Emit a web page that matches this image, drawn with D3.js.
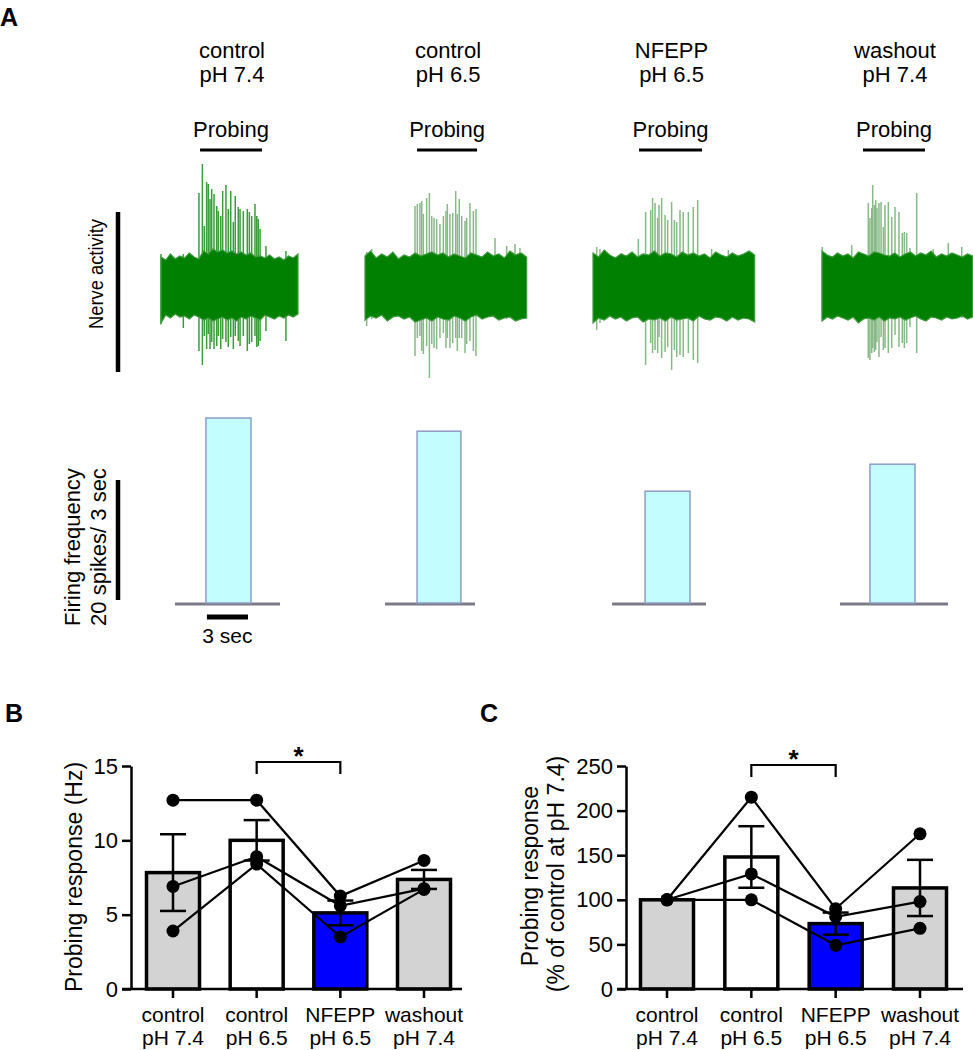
<!DOCTYPE html>
<html><head><meta charset="utf-8">
<script src="https://cdn.jsdelivr.net/npm/d3@7"></script>
<style>
body{margin:0;background:#fff}
svg{display:block}
text{font-family:"Liberation Sans",Arial,Helvetica,sans-serif;fill:#000}
</style>
</head><body>
<svg id="chart" width="973" height="1050"></svg>
<script>
// ---------------- DATA ----------------
const catLine1 = ["control", "control", "NFEPP", "washout"];
const catLine2 = ["pH 7.4", "pH 6.5", "pH 6.5", "pH 7.4"];
const cats = catLine1.map((d, i) => d + " " + catLine2[i]);
const barFills = ["#d3d3d3", "#ffffff", "#0000ff", "#d3d3d3"];

// Panel B: probing response (Hz), one row per preparation
const responseHz = [
  [12.7, 12.7, 6.25, 8.65],
  [6.9, 8.9, 5.6, 6.75],
  [3.9, 8.4, 3.5, 6.7]
];
const meanHz = [7.83, 10.0, 5.12, 7.37];
const semHz = [2.58, 1.36, 0.83, 0.64];
const ticksB = [0, 5, 10, 15];

// Panel C: % of control at pH 7.4
const responsePct = [
  [100, 100, 49, 68],
  [100, 129, 81, 98],
  [100, 215, 90, 174]
];
const meanPct = [100, 148, 73.3, 113.3];
const semPct = [0, 34.5, 12.4, 31.5];
const ticksC = [0, 50, 100, 150, 200, 250];

// Panel A: trace durations (s), probing windows (s)
const traceDur = [10.0, 11.8, 11.8, 11.0];
const probing = [[2.85, 7.37], [3.8, 8.18], [3.36, 7.96], [2.99, 7.52]];

// noise envelope (evenly sampled across each trace), amplitude units
const envTop = [
  [30,27,33,28,31,29,34,30,28,36,33,38,35,37,34,36,33,35,32,34,30,31,29,32,28,30,27,31,29,33],
  [31,36,29,33,30,35,28,32,30,34,31,33,35,32,34,30,33,31,29,34,32,30,35,31,33,29,36,32,34,30],
  [34,30,37,32,29,33,31,35,30,33,32,36,31,34,33,30,35,32,34,31,33,29,35,32,30,34,31,33,36,32],
  [36,32,30,34,31,33,29,35,33,31,35,34,32,31,34,30,33,35,31,34,32,36,30,33,31,34,32,30,33,31]
];
const envBot = [
  [-36,-28,-31,-27,-30,-29,-32,-28,-30,-33,-31,-34,-32,-30,-33,-31,-34,-30,-32,-29,-31,-33,-28,-30,-32,-29,-31,-28,-30,-27],
  [-33,-29,-31,-28,-34,-30,-29,-32,-30,-35,-33,-31,-34,-30,-32,-33,-29,-31,-34,-30,-28,-32,-30,-29,-33,-31,-30,-34,-32,-31],
  [-36,-31,-33,-29,-32,-30,-34,-31,-30,-35,-32,-33,-31,-34,-30,-33,-32,-31,-34,-29,-32,-33,-30,-31,-34,-30,-33,-31,-32,-35],
  [-34,-30,-32,-29,-31,-33,-30,-36,-32,-31,-33,-30,-34,-31,-32,-30,-33,-31,-29,-32,-34,-30,-31,-33,-30,-32,-31,-29,-32,-30]
];

// spikes: [time (s), upward amplitude, downward amplitude]
const spikes1 = [
  [0.0,33,-37],[1.63,33,-41],[2.77,94,-64],[3.02,123,-78],[3.16,61,-49],[3.33,105,-62],[3.45,103,-47],
  [3.58,88,-62],[3.70,98,-55],[3.87,93,-62],[4.07,81,-59],[4.18,76,-49],[4.36,71,-62],[4.50,96,-52],
  [4.74,102,-55],[4.91,78,-60],[5.09,96,-50],[5.28,65,-62],[5.42,91,-49],[5.64,80,-54],[5.77,78,-59],
  [6.01,76,-49],[6.30,78,-64],[6.45,75,-57],[6.62,71,-55],[6.86,83,-49],[6.99,71,-60],[7.10,68,-59],
  [7.23,58,-54],[7.66,41,-44],[9.12,36,-54]
];
const spikes2 = [
  [0.12,35,-39],[0.49,38,-32],[3.65,81,-69],[3.82,83,-51],[4.01,84,-49],[4.14,86,-64],[4.26,73,-67],
  [4.50,89,-59],[4.70,94,-91],[4.87,71,-57],[5.04,69,-61],[5.23,68,-62],[5.47,63,-51],[5.72,71,-46],
  [5.91,76,-61],[6.01,83,-51],[6.20,73,-61],[6.40,74,-56],[6.62,96,-51],[6.74,73,-64],[6.88,88,-51],
  [7.06,71,-51],[7.30,66,-66],[7.42,69,-57],[7.66,84,-54],[7.91,76,-64],[8.10,78,-69],
  [9.49,49,-31],[10.34,41,-32],[10.95,43,-34],[11.31,39,-32]
];
const spikes3 = [
  [0.27,40,-43],[0.51,38,-36],[0.88,37,-31],[2.09,34,-30],[3.31,48,-30],[3.84,75,-78],[4.21,77,-56],
  [4.35,89,-66],[4.53,84,-63],[4.72,69,-66],[4.82,82,-50],[5.01,89,-71],[5.26,72,-65],[5.45,67,-60],
  [5.74,85,-83],[5.94,67,-63],[6.11,65,-70],[6.35,77,-68],[6.59,75,-70],[6.96,75,-66],[7.32,80,-73],
  [7.64,87,-76],[8.66,38,-30],[9.88,37,-33],[11.58,35,-30]
];
const spikes4 = [
  [0.02,40,-33],[2.17,42,-30],[2.65,30,-36],[3.38,84,-71],[3.50,69,-73],[3.63,79,-66],[3.70,102,-61],
  [3.82,82,-65],[3.92,87,-63],[4.01,79,-55],[4.16,84,-70],[4.31,85,-50],[4.48,60,-63],[4.60,82,-61],
  [4.84,85,-66],[5.09,70,-61],[5.33,80,-48],[5.62,75,-60],[5.86,54,-56],[6.01,55,-61],[6.18,54,-56],
  [6.42,39,-40],[6.91,94,-66],[8.12,38,-31],[9.22,44,-30],[10.2,40,-31]
];
const spikeSets = [spikes1, spikes2, spikes3, spikes4];

// firing-frequency histogram (spikes per 3-s bin) for each trace
const histCounts = [31, 28.8, 18.8, 23.3];
const histBins = [[3.28, 6.57], [3.8, 7.0], [3.8, 7.08], [3.5, 6.79]];
const histBase = [[1.02, 8.69], [1.46, 8.03], [1.39, 8.25], [1.31, 9.2]];

// ---------------- LAYOUT ----------------
const svg = d3.select("#chart");
const FS = 21;      // category labels
const FT = 22;      // tick labels
const FY = 23;      // axis titles

// ---------- Panel A ----------
const traceX0 = [161, 365, 593, 822];
const pxPerSec = 13.7;
const xT = traceX0.map((x0, i) => d3.scaleLinear().domain([0, traceDur[i]]).range([x0, x0 + traceDur[i] * pxPerSec]));
const yA = d3.scaleLinear().domain([-100, 100]).range([387, 187]);
const yH = d3.scaleLinear().domain([0, 20]).range([604, 484]);

svg.append("text").attr("x", 0).attr("y", 26).style("font-size", "25px").style("font-weight", "bold").text("A");

const gA = svg.append("g");
for (let i = 0; i < 4; i++) {
  const x = xT[i];
  const cx = x((probing[i][0] + probing[i][1]) / 2);
  gA.append("text").attr("x", cx + 1).attr("y", 58).attr("text-anchor", "middle").style("font-size", "22px").text(catLine1[i]);
  gA.append("text").attr("x", cx + 1).attr("y", 82).attr("text-anchor", "middle").style("font-size", "22px").text(catLine2[i]);
  gA.append("text").attr("x", cx).attr("y", 137).attr("text-anchor", "middle").style("font-size", "22px").text("Probing");
  gA.append("line").attr("x1", x(probing[i][0])).attr("x2", x(probing[i][1]))
    .attr("y1", 150).attr("y2", 150).attr("stroke", "#000").attr("stroke-width", 3);

  // spikes
  const spikeColor = i === 0 ? "#3a9c3a" : "#86b986";
  gA.append("g").selectAll("line").data(spikeSets[i]).join("line")
    .attr("x1", d => x(d[0])).attr("x2", d => x(d[0]))
    .attr("y1", d => yA(d[1])).attr("y2", d => yA(d[2]))
    .attr("stroke", spikeColor).attr("stroke-width", 1.5);

  // noise band
  const n = envTop[i].length;
  const env = envTop[i].map((v, k) => ({t: k * traceDur[i] / (n - 1), top: v, bot: envBot[i][k]}));
  const area = d3.area().x(d => x(d.t)).y0(d => yA(d.bot)).y1(d => yA(d.top)).curve(d3.curveLinear);
  gA.append("path").datum(env).attr("d", area).attr("fill", "#008000")
    .attr("stroke", "#3c9a3c").attr("stroke-width", 1.2).attr("stroke-linejoin", "miter");

  // histogram
  gA.append("line").attr("x1", x(histBase[i][0])).attr("x2", x(histBase[i][1]))
    .attr("y1", yH(0)).attr("y2", yH(0)).attr("stroke", "#7c7c88").attr("stroke-width", 3);
  gA.append("rect").attr("x", x(histBins[i][0])).attr("width", x(histBins[i][1]) - x(histBins[i][0]))
    .attr("y", yH(histCounts[i])).attr("height", yH(0) - yH(histCounts[i]) - 1)
    .attr("fill", "#c4fdfd").attr("stroke", "#8d9cc8").attr("stroke-width", 1.5);
}

// scale bars
gA.append("line").attr("x1", 118).attr("x2", 118).attr("y1", yA(75)).attr("y2", yA(-85))
  .attr("stroke", "#000").attr("stroke-width", 4.5);
gA.append("text").attr("transform", `translate(96,${yA(13)}) rotate(-90)`).attr("text-anchor", "middle")
  .attr("dy", "0.35em").style("font-size", "20px").attr("textLength", 110).attr("lengthAdjust", "spacingAndGlyphs")
  .text("Nerve activity");

gA.append("line").attr("x1", 118).attr("x2", 118).attr("y1", yH(20) - 4).attr("y2", yH(0) - 4)
  .attr("stroke", "#000").attr("stroke-width", 4.5);
gA.append("text").attr("transform", `translate(72,${yH(9.5)}) rotate(-90)`).attr("text-anchor", "middle")
  .attr("dy", "0.35em").style("font-size", "22px").text("Firing frequency");
gA.append("text").attr("transform", `translate(98,${yH(9.5)}) rotate(-90)`).attr("text-anchor", "middle")
  .attr("dy", "0.35em").style("font-size", "22px").text("20 spikes/ 3 sec");

gA.append("line").attr("x1", xT[0](3.35)).attr("x2", xT[0](6.35)).attr("y1", 617).attr("y2", 617)
  .attr("stroke", "#000").attr("stroke-width", 5);
gA.append("text").attr("x", xT[0](4.85)).attr("y", 643).attr("text-anchor", "middle").style("font-size", "21px").text("3 sec");

// ---------- Bar panels ----------
function barPanel(opts) {
  const {letterX, axisX, xCenters, axisLineX, y, ticks, means, sems, points, title, bracketY, starY} = opts;
  const g = svg.append("g");
  const x = d3.scalePoint().domain(cats).range(xCenters);
  const bw = 53;

  g.append("text").attr("x", letterX).attr("y", 722).style("font-size", "25px").style("font-weight", "bold").text(opts.letter);

  // bars
  g.selectAll("rect.bar").data(means).join("rect").attr("class", "bar")
    .attr("x", (d, i) => x(cats[i]) - bw / 2).attr("width", bw)
    .attr("y", d => y(d)).attr("height", d => y(0) - y(d))
    .attr("fill", (d, i) => barFills[i]).attr("stroke", "#000").attr("stroke-width", 3.5);

  // error bars
  const eb = g.append("g").attr("stroke", "#000").attr("stroke-width", 2.5).attr("fill", "none");
  means.forEach((m, i) => {
    if (!sems[i]) return;
    const cx = x(cats[i]);
    eb.append("line").attr("x1", cx).attr("x2", cx).attr("y1", y(m + sems[i])).attr("y2", y(m - sems[i]));
    [m + sems[i], m - sems[i]].forEach(v => {
      eb.append("line").attr("x1", cx - 13).attr("x2", cx + 13).attr("y1", y(v)).attr("y2", y(v));
    });
  });

  // individual lines + points
  const line = d3.line().x((d, i) => x(cats[i])).y(d => y(d));
  g.selectAll("path.indiv").data(points).join("path").attr("class", "indiv")
    .attr("d", line).attr("fill", "none").attr("stroke", "#000").attr("stroke-width", 2.2);
  points.forEach(row => {
    g.append("g").selectAll("circle").data(row).join("circle")
      .attr("cx", (d, i) => x(cats[i])).attr("cy", d => y(d)).attr("r", 6.5).attr("fill", "#000");
  });

  // y axis
  const ya = g.append("g").attr("transform", `translate(${axisX},0)`)
    .call(d3.axisLeft(y).tickValues(ticks).tickSize(9).tickSizeOuter(0).tickPadding(4));
  ya.select(".domain").attr("stroke-width", 2.5);
  ya.selectAll(".tick line").attr("stroke-width", 2.5);
  ya.selectAll(".tick text").style("font-size", FT + "px").style("font-family", "Liberation Sans, Arial, sans-serif").attr("fill", "#000");

  // x axis
  g.append("line").attr("x1", axisLineX[0]).attr("x2", axisLineX[1]).attr("y1", y(0)).attr("y2", y(0))
    .attr("stroke", "#000").attr("stroke-width", 2.5);
  cats.forEach((c, i) => {
    g.append("line").attr("x1", x(c)).attr("x2", x(c)).attr("y1", y(0)).attr("y2", y(0) + 9)
      .attr("stroke", "#000").attr("stroke-width", 2.5);
    g.append("text").attr("x", x(c)).attr("y", 1022).attr("text-anchor", "middle").style("font-size", FS + "px").text(catLine1[i]);
    g.append("text").attr("x", x(c)).attr("y", 1045).attr("text-anchor", "middle").style("font-size", FS + "px").text(catLine2[i]);
  });

  // y title
  title.forEach(t => {
    g.append("text").attr("transform", `translate(${t.x},${t.y}) rotate(-90)`).attr("text-anchor", "middle")
      .attr("dy", "0.35em").style("font-size", FY + "px").text(t.text);
  });

  // significance bracket
  const x1 = x(cats[1]), x2 = x(cats[2]);
  g.append("path").attr("d", `M${x1},${bracketY + 12}V${bracketY}H${x2}V${bracketY + 12}`)
    .attr("fill", "none").attr("stroke", "#000").attr("stroke-width", 2.2);
  g.append("text").attr("x", (x1 + x2) / 2).attr("y", starY).attr("text-anchor", "middle")
    .style("font-size", "26px").style("font-weight", "bold").text("*");
}

barPanel({
  letter: "B", letterX: 5, axisX: 131, xCenters: [173, 424], axisLineX: [122, 462],
  y: d3.scaleLinear().domain([0, 15]).range([989, 766]),
  ticks: ticksB, means: meanHz, sems: semHz, points: responseHz,
  title: [{x: 74, y: 877, text: "Probing response (Hz)"}],
  bracketY: 762, starY: 765
});

barPanel({
  letter: "C", letterX: 480, axisX: 626, xCenters: [667, 920], axisLineX: [617, 963],
  y: d3.scaleLinear().domain([0, 250]).range([989, 766]),
  ticks: ticksC, means: meanPct, sems: semPct, points: responsePct,
  title: [{x: 530, y: 876, text: "Probing response"}, {x: 556, y: 874, text: "(% of control at pH 7.4)"}],
  bracketY: 765, starY: 768
});
</script>
</body></html>
